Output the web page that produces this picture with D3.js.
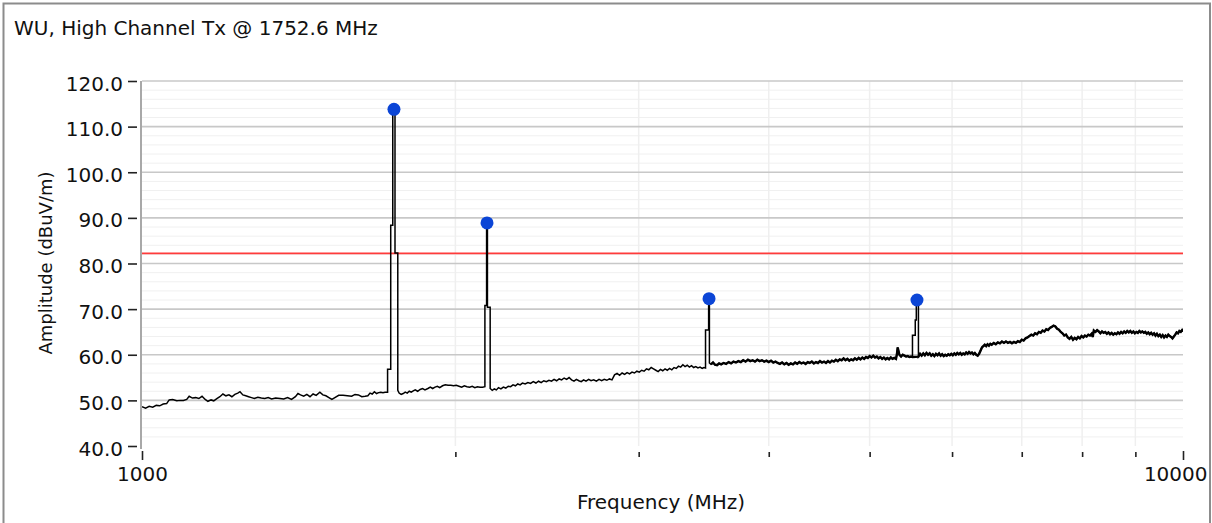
<!DOCTYPE html>
<html>
<head>
<meta charset="utf-8">
<script src="https://cdn.jsdelivr.net/npm/d3@7"></script>
<style>
  body { margin: 0; background: #fff; }
  text { font-family: "DejaVu Sans", Verdana, sans-serif; fill: #111; }
</style>
</head>
<body>
<div id="chart"></div>
<script>
const svgWidth = 1212;
const svgHeight = 523;

const title = "WU, High Channel Tx @ 1752.6 MHz";
const xTitle = "Frequency (MHz)";
const yTitle = "Amplitude (dBuV/m)";

const xTicks = [1000, 2000, 3000, 4000, 5000, 6000, 7000, 8000, 9000, 10000];
const xLabels = [1000, 10000];
const yTicks = [40, 50, 60, 70, 80, 90, 100, 110, 120];
const limitLine = 82.2;

// peak markers (MHz, dBuV/m)
const peakFreq = [1746, 2145, 3505, 5552];
const peakAmp = [113.8, 88.9, 72.3, 72.0];

const floorA = [
  [1000,48.6],[1008,48.3],[1016,48.7],[1024,48.5],[1032,48.9],[1040,48.8],[1048,49.2],[1056,49.3],
  [1062,50.1],[1070,50.2],[1080,49.9],[1088,50.0],[1096,50.0],[1104,50.2],[1110,50.9],[1118,50.5],
  [1126,50.6],[1134,50.4],[1142,50.9],[1150,50.2],[1157,49.8],[1165,50.1],[1172,49.9],[1180,50.4],
  [1188,50.8],[1196,51.4],[1204,51.0],[1212,51.2],[1220,50.8],[1228,51.3],[1236,51.6],[1242,51.9],
  [1250,51.2],[1258,51.0],[1266,50.8],[1274,50.6],[1282,50.4],[1292,50.7],[1302,50.5],[1312,50.4],
  [1322,50.6],[1332,50.3],[1344,50.5],[1357,50.4],[1368,50.3],[1380,50.6],[1392,50.2],[1404,50.8],
  [1412,51.5],[1420,51.2],[1430,50.9],[1440,51.3],[1450,50.8],[1460,51.4],[1470,51.1],[1482,51.8],
  [1492,51.2],[1502,51.0],[1512,50.6],[1522,50.2],[1532,50.6],[1545,51.1],[1560,51.1],[1575,51.0],
  [1590,50.9],[1602,51.3],[1614,51.2],[1626,50.8],[1638,50.9],[1648,51.0],[1656,51.6],[1664,51.4],
  [1672,51.9],[1680,51.5],[1688,51.7],[1696,51.8],[1704,51.7],[1712,51.8],[1721.5,51.8]
];
const spike1 = [
  [1721.5,56.8],[1733.5,56.8],[1733.5,88.4],[1741.4,88.4],[1741.4,113.6],[1750,113.6],
  [1750,82.3],[1760.8,82.3],[1760.8,52.2]
];
const floorB = [
  [1766,51.6],[1774,51.3],[1782,51.5],[1790,51.8],[1798,51.6],[1806,52.0],[1814,51.8],[1822,52.1],
  [1830,52.3],[1840,52.0],[1850,52.4],[1860,52.6],[1870,52.3],[1882,52.6],[1892,52.9],[1902,52.6],
  [1912,52.9],[1922,53.1],[1932,52.8],[1944,53.2],[1956,53.4],[1968,53.3],[1980,53.3],[1992,53.2],
  [2004,53.3],[2016,53.1],[2028,52.9],[2040,53.2],[2052,53.0],[2064,52.9],[2076,53.1],[2088,52.8],
  [2100,53.0],[2112,52.9],[2124,52.9],[2135,53.0]
];
const spike2 = [
  [2135,70.8],[2143,70.8],[2143,89.1],[2147,89.1],[2147,70.4],[2160,70.4],[2160,52.6]
];
const floorC = [
  [2170,52.2],[2180,52.5],[2190,52.3],[2200,52.8],[2212,52.5],[2224,52.9],[2236,52.7],[2248,53.1],
  [2260,53.0],[2272,53.4],[2284,53.2],[2296,53.6],[2308,53.4],[2320,53.8],[2334,53.6],[2348,53.9],
  [2362,53.7],[2376,54.1],[2390,53.8],[2404,54.2],[2418,53.9],[2432,54.3],[2446,54.1],[2460,54.4],
  [2474,54.2],[2488,54.6],[2502,54.3],[2516,54.7],[2530,54.5],[2544,54.9],[2558,54.6],[2572,55.0],
  [2586,54.5],[2600,54.2],[2614,54.6],[2628,54.3],[2642,54.1],[2656,54.5],[2670,54.2],[2686,54.6],
  [2700,54.3],[2716,54.5],[2732,54.2],[2748,54.6],[2764,54.3],[2780,54.6],[2796,54.4],[2812,54.7],
  [2828,54.5],[2844,55.6],[2860,55.9],[2876,55.5],[2892,56.0],[2908,55.7],[2924,56.1],[2940,55.8],
  [2956,56.2],[2972,56.0],[2988,56.4],[3004,56.2],[3020,56.6],[3036,56.4],[3052,56.9],[3068,56.7],
  [3084,57.2],[3100,56.9],[3116,56.6],[3132,56.3],[3148,56.8],[3164,56.5],[3180,56.9],[3196,56.6],
  [3212,57.0],[3228,56.7],[3244,57.2],[3260,57.0],[3276,57.5],[3292,57.3],[3308,57.8],[3324,57.4],
  [3340,57.7],[3356,57.3],[3372,57.6],[3388,57.2],[3404,57.4],[3420,57.1],[3436,57.3],[3452,57.0],
  [3466,57.2],[3478,57.1]
];
const spike3 = [
  [3478,65.4],[3502,65.4],[3502,72.2],[3508,72.2],[3508,58.2]
];
const floorD = [
  [3520,57.9],[3536,58.3],[3552,57.8],[3568,57.7],[3584,58.1],[3600,57.9],[3620,58.2],[3640,58.0],
  [3660,58.4],[3680,58.1],[3700,58.5],[3720,58.3],[3740,58.6],[3760,58.4],[3780,58.8],[3800,58.5],
  [3820,58.9],[3840,58.6],[3860,58.8],[3880,58.5],[3900,58.9],[3920,58.6],[3940,58.8],[3960,58.5],
  [3980,58.7],[4000,58.4],[4020,58.7],[4040,58.3],[4060,58.5],[4080,58.2],[4100,58.0],[4120,58.3],
  [4140,57.9],[4160,58.2],[4180,57.8],[4200,58.1],[4220,57.9],[4240,58.3],[4260,58.0],[4280,58.4],
  [4300,58.1],[4320,58.3],[4340,58.0],[4360,58.4],[4380,58.2],[4400,58.5],[4420,58.1],[4440,58.4],
  [4460,58.2],[4480,58.6],[4500,58.3],[4520,58.5],[4540,58.2],[4560,58.6],[4580,58.3],[4600,58.7],
  [4620,58.5],[4640,58.9],[4660,58.6],[4680,59.0],[4700,58.8],[4720,59.2],[4740,58.8],[4760,59.1],
  [4780,58.7],[4800,59.0],[4820,58.8],[4840,59.2],[4860,58.9],[4880,59.3],[4900,59.0],[4920,59.4],
  [4940,59.1],[4960,59.5],[4980,59.3],[5000,59.7],[5020,59.4],[5040,59.8],[5060,59.4],[5080,59.6],
  [5100,59.2],[5120,59.5],[5140,59.1],[5160,59.4],[5180,59.0],[5200,59.3],[5220,59.0],[5240,59.4],
  [5260,59.1],[5280,59.3],[5300,59.1],[5312,60.2],[5320,61.6],[5328,61.0],[5340,60.0],[5360,59.6],
  [5380,60.0],[5400,59.8],[5420,59.6],[5440,59.7],[5460,59.5],[5480,59.6],[5497,59.5]
];
const spike4 = [
  [5497,64.3],[5531,64.3],[5531,67.6],[5544,67.6],[5544,72.0],[5570,72.0],[5570,59.6]
];
const floorE = [
  [5590,60.2],[5610,59.8],[5630,60.3],[5650,59.9],[5670,60.4],[5690,60.0],[5710,60.3],[5730,59.8],
  [5750,60.1],[5770,59.7],[5790,60.2],[5810,59.9],[5830,60.3],[5850,59.8],[5870,60.1],[5890,59.7],
  [5910,60.0],[5930,59.8],[5950,60.1],[5970,59.9],[5990,60.2],[6010,59.9],[6030,60.3],[6050,60.0],
  [6070,60.4],[6090,60.1],[6110,60.4],[6130,60.0],[6150,60.3],[6170,60.1],[6190,60.5],[6210,60.2],
  [6230,60.6],[6250,60.3],[6270,60.5],[6290,60.1],[6310,60.4],[6330,60.0],[6350,59.8],[6370,60.2],
  [6390,60.9],[6410,61.6],[6430,61.9],[6450,62.2],[6470,61.9],[6490,62.3],[6510,62.0],[6530,62.4],
  [6550,62.2],[6580,62.6],[6610,62.3],[6640,62.7],[6670,62.5],[6700,62.9],[6730,62.6],[6760,62.9],
  [6790,62.6],[6820,62.8],[6850,62.5],[6880,62.8],[6910,62.6],[6940,63.0],[6970,62.8],[7000,63.3],
  [7030,63.1],[7060,63.6],[7090,63.8],[7120,64.1],[7150,64.4],[7180,64.2],[7210,64.7],[7240,64.5],
  [7270,65.0],[7300,64.8],[7330,65.3],[7360,65.1],[7390,65.6],[7420,65.4],[7450,65.9],[7480,66.1],
  [7510,66.4],[7540,66.2],[7570,65.7],[7600,65.5],[7630,65.0],[7660,64.7],[7690,64.2],[7720,64.4],
  [7750,63.8],[7780,63.5],[7810,63.9],[7840,63.3],[7870,63.7],[7900,63.4],[7930,63.9],[7960,63.6],
  [7990,64.1],[8020,63.8],[8050,64.2],[8080,64.0],[8110,64.4],[8140,64.2],[8170,64.6],[8190,63.9],
  [8210,65.3],[8240,65.0],[8270,65.4],[8300,65.1],[8330,64.7],[8360,65.1],[8390,64.8],[8420,65.0],
  [8450,64.6],[8480,64.9],[8510,64.5],[8540,64.8],[8570,64.4],[8600,64.7],[8630,64.5],[8660,64.9],
  [8690,64.6],[8720,65.0],[8750,64.7],[8780,65.1],[8810,64.8],[8840,65.2],[8870,64.9],[8900,65.2],
  [8930,64.8],[8960,65.1],[8990,64.7],[9020,65.0],[9050,64.8],[9080,65.2],[9110,64.9],[9140,65.1],
  [9170,64.8],[9200,65.0],[9230,64.6],[9260,64.9],[9290,64.5],[9320,64.8],[9350,64.4],[9380,64.7],
  [9410,64.2],[9440,64.6],[9470,64.1],[9500,64.4],[9530,63.9],[9560,64.3],[9590,63.8],[9620,64.2],
  [9650,63.9],[9680,64.4],[9710,64.1],[9740,63.9],[9770,63.6],[9800,64.0],[9830,64.4],[9860,64.9],
  [9890,64.7],[9920,65.2],[9950,65.0],[9980,65.4],[10000,65.1]
];
const trace = [].concat(floorA, spike1, floorB, spike2, floorC, spike3, floorD, spike4, floorE);

const plot = { left: 142, right: 1183, top: 81, bottom: 446 };

const x = d3.scaleLog().domain([1000, 10000]).range([plot.left, plot.right]);
const y = d3.scaleLinear().domain([40, 120]).range([plot.bottom, plot.top]);

const svg = d3.select("#chart")
    .append("svg")
    .attr("width", svgWidth)
    .attr("height", svgHeight);

svg.append("rect")
    .attr("width", svgWidth)
    .attr("height", svgHeight)
    .attr("fill", "#fff");

svg.append("defs").append("clipPath")
    .attr("id", "plot-clip")
    .append("rect")
    .attr("x", plot.left)
    .attr("y", plot.top - 8)
    .attr("width", plot.right - plot.left)
    .attr("height", plot.bottom - plot.top + 8);

// minor grid
const minorY = d3.range(42, 120, 2).filter(d => d % 10 !== 0);
svg.append("g").selectAll("line")
    .data(minorY)
    .join("line")
    .attr("x1", plot.left).attr("x2", plot.right)
    .attr("y1", d => y(d)).attr("y2", d => y(d))
    .attr("stroke", "#f0f0f0")
    .attr("stroke-width", 1);

svg.append("g").selectAll("line")
    .data(xTicks.slice(1, -1))
    .join("line")
    .attr("x1", d => x(d)).attr("x2", d => x(d))
    .attr("y1", plot.top).attr("y2", plot.bottom)
    .attr("stroke", "#efefef")
    .attr("stroke-width", 1.5);

// major grid
svg.append("g").selectAll("line")
    .data(yTicks.slice(1))
    .join("line")
    .attr("x1", plot.left).attr("x2", plot.right)
    .attr("y1", d => y(d)).attr("y2", d => y(d))
    .attr("stroke", "#c8c8c8")
    .attr("stroke-width", 1.6);

// left axis line
svg.append("line")
    .attr("x1", 141).attr("x2", 141)
    .attr("y1", plot.top).attr("y2", plot.bottom + 3)
    .attr("stroke", "#a8a8a8")
    .attr("stroke-width", 2);

// y axis
const yAxis = svg.append("g")
    .attr("transform", "translate(137,0)")
    .call(d3.axisLeft(y).tickValues(yTicks).tickFormat(d3.format(".1f")).tickSize(9).tickPadding(5));
yAxis.select(".domain").remove();
yAxis.selectAll("line").attr("stroke", "#222").attr("stroke-width", 1.6);
yAxis.selectAll("text")
    .attr("font-size", 20)
    .attr("font-family", "DejaVu Sans")
    .attr("fill", "#111")
    .attr("dy", 9);

// x axis
const xAxis = svg.append("g")
    .attr("transform", `translate(0,${plot.bottom + 5})`)
    .call(d3.axisBottom(x).tickValues(xTicks).tickFormat(d => xLabels.includes(d) ? d : "").tickSize(9).tickPadding(6));
xAxis.select(".domain").remove();
xAxis.selectAll("line")
    .attr("stroke", "#222")
    .attr("stroke-width", 1.6)
    .attr("y1", d => xLabels.includes(d) ? 0 : 1)
    .attr("y2", d => xLabels.includes(d) ? 9 : 6);
xAxis.selectAll("text")
    .attr("font-size", 20)
    .attr("font-family", "DejaVu Sans")
    .attr("fill", "#111")
    .attr("y", 0)
    .attr("dy", 30)
    // last label would run past the frame, keep it inside
    .attr("text-anchor", d => d === 10000 ? "end" : "middle")
    .attr("dx", d => d === 10000 ? 24 : 0);

// limit line
svg.append("line")
    .attr("x1", plot.left).attr("x2", plot.right)
    .attr("y1", y(limitLine)).attr("y2", y(limitLine))
    .attr("stroke", "#ff3b3b")
    .attr("stroke-width", 1.8);

// trace
const line = d3.line()
    .x(d => x(d[0]))
    .y(d => y(d[1]));

svg.append("path")
    .datum(trace)
    .attr("clip-path", "url(#plot-clip)")
    .attr("d", line)
    .attr("fill", "none")
    .attr("stroke", "#000")
    .attr("stroke-width", 1.5)
    .attr("stroke-linejoin", "miter");

// the dense upper part of the sweep looks heavier
svg.append("path")
    .datum([].concat(floorD, spike4.slice(-1), floorE))
    .attr("clip-path", "url(#plot-clip)")
    .attr("d", line)
    .attr("fill", "none")
    .attr("stroke", "#000")
    .attr("stroke-width", 2.4);

// peak markers
svg.append("g").selectAll("circle")
    .data(peakFreq)
    .join("circle")
    .attr("cx", d => x(d))
    .attr("cy", (d, i) => y(peakAmp[i]))
    .attr("r", 6.5)
    .attr("fill", "#0b45d6");

// titles
svg.append("text")
    .attr("x", 14)
    .attr("y", 35)
    .attr("font-size", 20)
    .text(title);

svg.append("text")
    .attr("x", 661)
    .attr("y", 509)
    .attr("text-anchor", "middle")
    .attr("font-size", 20)
    .text(xTitle);

svg.append("text")
    .attr("transform", "translate(52,263) rotate(-90)")
    .attr("text-anchor", "middle")
    .attr("font-size", 18)
    .text(yTitle);

// outer frame
svg.append("rect")
    .attr("x", 3.5)
    .attr("y", 3.5)
    .attr("width", 1206.5)
    .attr("height", 540)
    .attr("fill", "none")
    .attr("stroke", "#8c8c8c")
    .attr("stroke-width", 2);
</script>
</body>
</html>
